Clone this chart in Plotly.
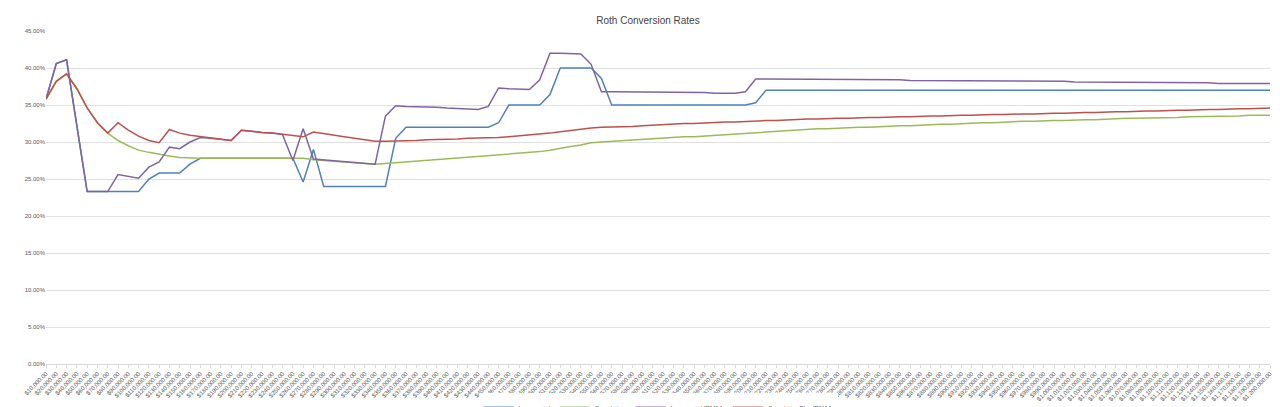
import plotly.graph_objects as go

categories = [f"${v:,}.00" for v in range(10000, 1200001, 10000)]

incremental = ([35.8, 40.6, 41.1, 32.0] + [23.3]*6 + [25.0, 25.8, 25.8, 25.8, 27.0]
               + [27.8]*10 + [24.6, 29.0] + [24.0]*7 + [30.5]
               + [32.0]*9 + [32.6] + [35.0]*4 + [36.4] + [40.0]*4 + [38.6]
               + [35.0]*14 + [35.3] + [37.0]*51)

cumulative = ([35.8, 38.2, 39.2, 37.2, 34.6, 32.6, 31.2, 30.2, 29.5, 28.9, 28.6, 28.3, 28.1, 27.9, 27.8]
              + [27.8]*11 + [27.6, 27.5, 27.4, 27.3, 27.2, 27.1, 27.0]
              + [27.1, 27.2, 27.3, 27.4, 27.5, 27.6, 27.7, 27.8, 27.9, 28.0, 28.1, 28.2, 28.3, 28.4,
                 28.6, 28.7, 28.9, 29.2, 29.4, 29.6, 29.9, 30.0, 30.1, 30.2, 30.3, 30.3, 30.4, 30.5,
                 30.6, 30.7, 30.7, 30.8, 30.9, 30.9, 31.0, 31.1, 31.2, 31.3, 31.4, 31.5, 31.6]
              + [31.7, 31.8, 31.8, 31.9, 31.9, 32.0, 32.0, 32.1, 32.1, 32.2, 32.2, 32.3, 32.3, 32.4,
                 32.4, 32.5, 32.5, 32.6, 32.6, 32.7, 32.7, 32.8, 32.8, 32.9, 32.9, 32.9, 33.0, 33.0,
                 33.0, 33.1, 33.1, 33.2, 33.2, 33.2, 33.3, 33.3, 33.3, 33.4, 33.4, 33.4, 33.5, 33.5,
                 33.5, 33.6, 33.6, 33.6])

cumulative_irmaa = ([35.8, 38.2, 39.2, 37.2, 34.6, 32.6, 31.2, 32.6, 31.6, 30.8, 30.2, 29.9, 31.7, 31.2,
                     30.9, 30.7, 30.5, 30.3, 30.2, 31.6, 31.4, 31.3, 31.2, 31.0, 30.8, 30.7, 31.35,
                     31.1, 30.9, 30.7, 30.5, 30.3, 30.1, 30.1, 30.1, 30.2, 30.2, 30.3, 30.3, 30.4,
                     30.4, 30.5, 30.5, 30.6, 30.6, 30.7, 30.8, 30.9, 31.0, 31.2, 31.4, 31.6, 31.7,
                     31.9, 32.0, 32.0, 32.1, 32.1, 32.2, 32.3, 32.4, 32.4, 32.5, 32.5, 32.6, 32.6,
                     32.7, 32.7, 32.8, 32.8, 32.9, 32.9, 33.0, 33.0, 33.1]
                    + [33.1, 33.2, 33.2, 33.2, 33.3, 33.3, 33.3, 33.4, 33.4, 33.4, 33.5, 33.5, 33.5,
                       33.6, 33.6, 33.6, 33.7, 33.7, 33.7, 33.8, 33.8, 33.8, 33.9, 33.9, 33.9, 34.0,
                       34.0, 34.0, 34.1, 34.1, 34.1, 34.2, 34.2, 34.2, 34.3, 34.3, 34.3, 34.4, 34.4,
                       34.4, 34.5, 34.5, 34.5, 34.6, 34.6])

incremental_irmaa = ([35.8, 40.6, 41.1, 32.0, 23.3, 23.3, 23.3, 25.6, 25.4, 25.1, 26.6, 27.3, 29.3, 29.1,
                      30.0, 30.6, 30.5, 30.3, 30.2, 31.6, 31.4, 31.3, 31.2, 31.0, 27.5, 31.8, 27.7,
                      27.6, 27.5, 27.3, 27.2, 27.1, 27.0, 33.5, 34.9, 34.8, 34.8, 34.7, 34.7, 34.6,
                      34.5, 34.5, 34.4, 34.8, 37.3, 37.2, 37.2, 37.1, 38.4, 42.0, 42.0, 41.9, 41.9,
                      40.5, 36.8, 36.8, 36.8, 36.7, 36.7, 36.7, 36.8, 36.8, 36.7, 36.7, 36.7, 36.6,
                      36.6, 36.6, 36.8, 38.5]
                     + [38.5]*6 + [38.4]*8 + [38.3]*8 + [38.2]*8 + [38.1]*8 + [38.0]*6 + [37.9]*6)

colors = ["#4f81bd", "#9bbb59", "#8064a2", "#c0504d"]
names = ["Incremental", "Cumulative", "Incremental-IRMAA", "Cumulative Plus IRMAA"]
series = [incremental, cumulative, incremental_irmaa, cumulative_irmaa]

fig = go.Figure()
for n, s, c in zip(names, series, colors):
    fig.add_trace(go.Scatter(x=categories[:len(s)], y=[v / 100 for v in s], mode="lines", name=n,
                             line=dict(color=c, width=1.5)))

fig.update_layout(
    width=1280, height=407, paper_bgcolor="white", plot_bgcolor="white",
    margin=dict(l=38, r=18, t=23, b=51, autoexpand=False),
    title=dict(text="Roth Conversion Rates", x=0.5, y=0.97, xanchor="center", yanchor="middle",
               font=dict(family="Liberation Sans", size=10, color="#444")),
    font=dict(family="Liberation Sans", color="#595959"),
    xaxis=dict(type="category", categoryorder="array", categoryarray=categories,
               tickangle=-45, tickfont=dict(size=6), showgrid=False, automargin=False,
               showline=True, linecolor="#d9d9d9", ticks="outside", ticklen=3, tickcolor="#d9d9d9"),
    yaxis=dict(range=[0, 0.45], dtick=0.05, tickformat=".2%", tickfont=dict(size=6),
               gridcolor="#e0e0e0", zeroline=False, automargin=False),
    legend=dict(orientation="h", x=0.5, xanchor="center", y=-0.13, yanchor="middle",
                font=dict(size=6)),
    showlegend=True,
)
fig.write_html("out.html")
